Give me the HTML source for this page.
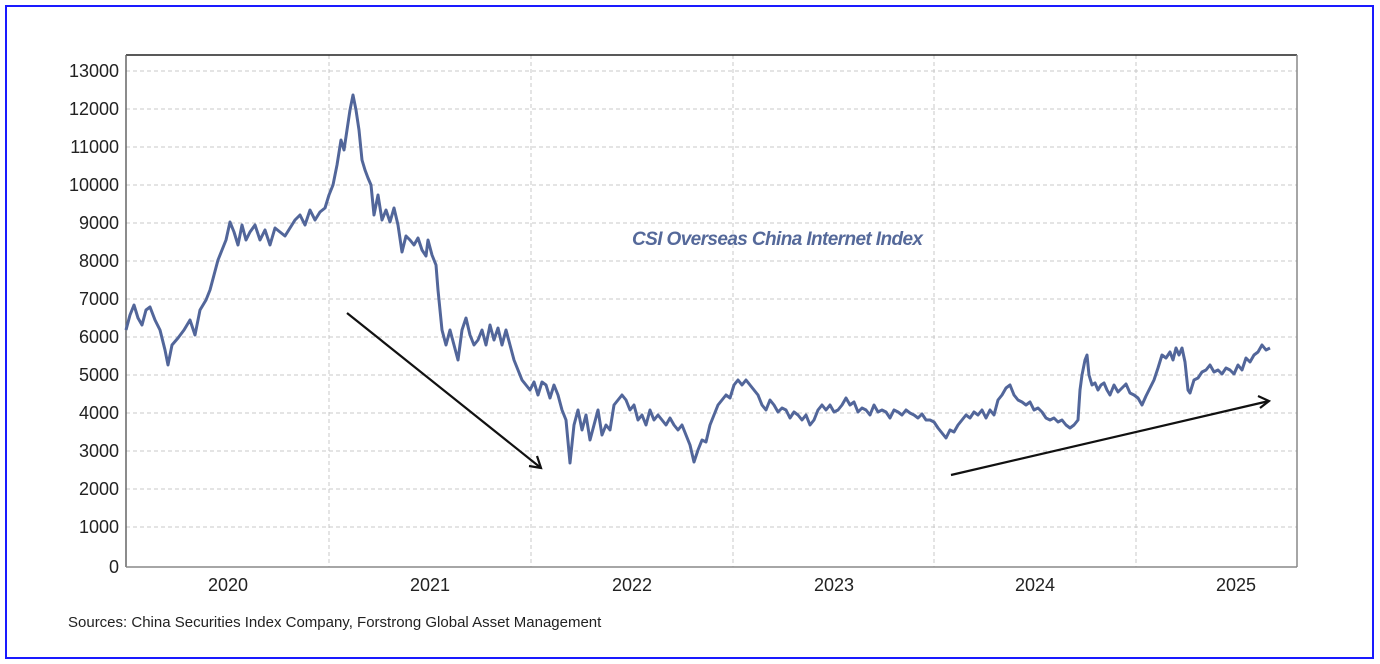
<!DOCTYPE html>
<html><head><meta charset="utf-8"><style>
html,body{margin:0;padding:0;background:#fff;}
svg{display:block;}
text{font-family:"Liberation Sans",sans-serif;}
</style></head><body>
<svg width="1380" height="664" viewBox="0 0 1380 664" xmlns="http://www.w3.org/2000/svg">
<rect x="0" y="0" width="1380" height="664" fill="#fff"/>
<rect x="6" y="6" width="1367" height="652" fill="none" stroke="#1a1aff" stroke-width="2"/>
<g stroke="#c8c8c8" stroke-width="1" stroke-dasharray="4,3">
<line x1="126" y1="71" x2="1297" y2="71"/><line x1="126" y1="109" x2="1297" y2="109"/>
<line x1="126" y1="147" x2="1297" y2="147"/><line x1="126" y1="185" x2="1297" y2="185"/>
<line x1="126" y1="223" x2="1297" y2="223"/><line x1="126" y1="261" x2="1297" y2="261"/>
<line x1="126" y1="299" x2="1297" y2="299"/><line x1="126" y1="337" x2="1297" y2="337"/>
<line x1="126" y1="375" x2="1297" y2="375"/><line x1="126" y1="413" x2="1297" y2="413"/>
<line x1="126" y1="451" x2="1297" y2="451"/><line x1="126" y1="489" x2="1297" y2="489"/>
<line x1="126" y1="527" x2="1297" y2="527"/>
<line x1="329" y1="55" x2="329" y2="567"/><line x1="531" y1="55" x2="531" y2="567"/>
<line x1="733" y1="55" x2="733" y2="567"/><line x1="934" y1="55" x2="934" y2="567"/>
<line x1="1136" y1="55" x2="1136" y2="567"/>
</g>
<line x1="126" y1="55" x2="1297" y2="55" stroke="#222" stroke-width="1.5"/>
<line x1="126" y1="55" x2="126" y2="567" stroke="#666" stroke-width="1.5"/>
<line x1="1297" y1="55" x2="1297" y2="567" stroke="#888" stroke-width="1.5"/>
<line x1="126" y1="567" x2="1297" y2="567" stroke="#888" stroke-width="1.5"/>
<g font-size="18" fill="#222" text-anchor="end">
<text x="119" y="77">13000</text><text x="119" y="115">12000</text><text x="119" y="153">11000</text>
<text x="119" y="191">10000</text><text x="119" y="229">9000</text><text x="119" y="267">8000</text>
<text x="119" y="305">7000</text><text x="119" y="343">6000</text><text x="119" y="381">5000</text>
<text x="119" y="419">4000</text><text x="119" y="457">3000</text><text x="119" y="495">2000</text>
<text x="119" y="533">1000</text><text x="119" y="573">0</text>
</g>
<g font-size="18" fill="#222" text-anchor="middle">
<text x="228" y="591">2020</text><text x="430" y="591">2021</text><text x="632" y="591">2022</text>
<text x="834" y="591">2023</text><text x="1035" y="591">2024</text><text x="1236" y="591">2025</text>
</g>
<text x="632" y="245" font-size="19" font-style="italic" font-weight="bold" fill="#55699a" textLength="291">CSI Overseas China Internet Index</text>
<text x="68" y="627" font-size="15" fill="#222">Sources: China Securities Index Company, Forstrong Global Asset Management</text>
<polyline fill="none" stroke="#52669a" stroke-width="3" stroke-linejoin="round" points="126,330 130,315 134,305 138,318 142,325 146,310 150,307 155,320 160,330 165,350 168,365 172,345 178,338 184,330 190,320 195,335 200,310 206,300 210,290 214,275 218,260 222,250 226,240 230,222 234,232 238,245 242,225 246,240 250,232 255,225 260,240 265,230 270,245 275,228 280,232 285,236 290,228 295,220 300,215 305,225 310,210 315,220 320,212 325,208 329,195 333,185 337,165 341,140 344,150 347,130 350,110 353,95 356,110 359,130 362,160 365,170 368,178 371,185 374,215 378,195 382,220 386,210 390,222 394,208 398,225 402,252 406,236 410,240 414,245 418,238 422,250 426,256 428,240 432,255 436,265 438,290 442,330 446,345 450,330 454,345 458,360 462,330 466,318 470,335 474,345 478,340 482,330 486,345 490,325 494,340 498,328 502,345 506,330 510,345 514,360 518,370 522,380 526,385 530,390 534,382 538,395 542,382 546,385 550,398 554,385 558,395 562,410 566,420 570,463 574,425 578,410 582,430 586,415 590,440 594,425 598,410 602,435 606,425 610,430 614,405 618,400 622,395 626,400 630,410 634,405 638,420 642,415 646,425 650,410 654,420 658,415 662,420 666,425 670,418 674,425 678,430 682,425 686,435 690,445 694,462 698,450 702,440 706,442 710,425 714,415 718,405 722,400 726,395 730,398 734,385 738,380 742,385 746,380 750,385 754,390 758,395 762,405 766,410 770,400 774,405 778,412 782,408 786,410 790,418 794,412 798,415 802,420 806,415 810,425 814,420 818,410 822,405 826,410 830,405 834,412 838,410 842,405 846,398 850,405 854,402 858,412 862,408 866,410 870,415 874,405 878,412 882,410 886,412 890,418 894,410 898,412 902,415 906,410 910,413 914,415 918,418 922,414 926,420 930,420 934,422 938,428 942,433 946,438 950,430 954,432 958,425 962,420 966,415 970,418 974,412 978,415 982,410 986,418 990,410 994,415 998,400 1002,395 1006,388 1010,385 1014,395 1018,400 1022,402 1026,405 1030,402 1034,410 1038,408 1042,412 1046,418 1050,420 1054,418 1058,422 1062,420 1066,425 1070,428 1074,425 1078,420 1080,390 1082,375 1085,360 1087,355 1089,375 1092,385 1095,383 1098,390 1101,385 1104,383 1107,390 1110,395 1114,385 1118,392 1122,388 1126,384 1130,393 1134,395 1138,398 1142,405 1146,396 1150,388 1154,380 1158,368 1162,355 1166,358 1170,352 1173,360 1176,348 1179,355 1182,348 1185,362 1188,390 1190,393 1194,380 1198,378 1202,372 1206,370 1210,365 1214,372 1218,370 1222,374 1226,368 1230,370 1234,374 1238,365 1242,370 1246,358 1250,362 1254,355 1258,352 1262,345 1266,350 1270,348"/>
<g stroke="#111" stroke-width="2.2" fill="none">
<line x1="347" y1="313" x2="541" y2="468"/>
<polyline points="529,466 541,468 537,456"/>
<line x1="951" y1="475" x2="1269" y2="401"/>
<polyline points="1258,396 1269,401 1260,408"/>
</g>
</svg>
</body></html>
